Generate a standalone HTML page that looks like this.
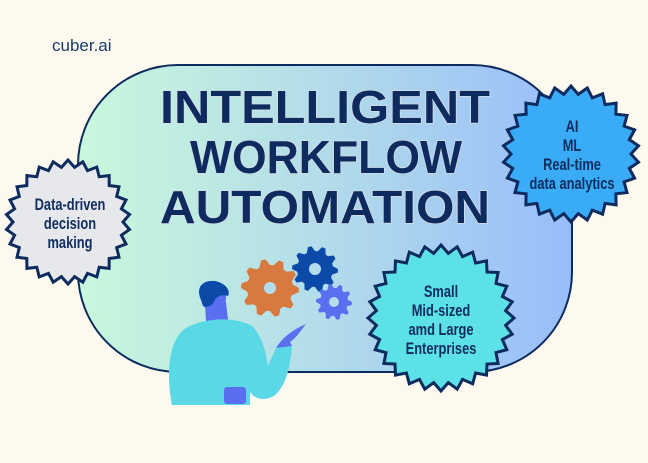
<!DOCTYPE html>
<html><head><meta charset="utf-8"><style>
html,body{margin:0;padding:0;background:#fef9ee;}
svg{display:block}
.t{font-family:"Liberation Sans",sans-serif;font-weight:bold;fill:#0f2d5e;text-anchor:middle;font-size:16.5px}
.h{font-family:"Liberation Sans",sans-serif;font-weight:bold;fill:#0d2b5e;stroke:#d8dde6;stroke-width:1.5;paint-order:stroke;font-size:46px}
</style></head><body>
<svg id="s" width="648" height="463" viewBox="0 0 648 463" xmlns="http://www.w3.org/2000/svg">
<defs><linearGradient id="g" x1="0" x2="1" y1="0" y2="0">
<stop offset="0" stop-color="#c8f8dc"/><stop offset="0.5" stop-color="#b2dcea"/><stop offset="1" stop-color="#98bdfa"/></linearGradient></defs>
<text x="52" y="51" style="font-family:'Liberation Sans',sans-serif;font-size:17px;fill:#1a3a6e">cuber.ai</text>
<rect x="78" y="65" width="494" height="307" rx="100" ry="100" fill="url(#g)" stroke="#0d2b5e" stroke-width="2"/>
<text class="h" x="160" y="123" textLength="330" lengthAdjust="spacingAndGlyphs">INTELLIGENT</text>
<text class="h" x="190" y="173" textLength="272" lengthAdjust="spacingAndGlyphs">WORKFLOW</text>
<text class="h" x="160" y="223" textLength="330" lengthAdjust="spacingAndGlyphs">AUTOMATION</text>
<g id="bursts"></g>
<g id="gears"></g>
<!-- person -->
<path d="M205,302 L206,322 C212,326 222,326 228,320 L226,302Z" fill="#5a6ff0"/>
<path d="M172,405 C166,375 168,340 186,328 C204,318 234,316 252,326 C262,336 266,352 268,366 L276,348 L292,346 C290,368 286,386 274,396 C262,402 254,398 250,392 L250,405 Z" fill="#5ad8e6"/>
<path d="M276,348 C282,338 292,330 306,324 C300,332 296,338 290,342 L292,346 Z" fill="#5a6ff0"/>
<ellipse cx="214" cy="298" rx="12" ry="15" fill="#5a6ff0"/>
<path d="M201,300 C195,286 204,280 215,281 C225,283 231,290 228,296 C222,294 216,296 214,302 C212,306 206,308 203,306Z" fill="#0b4aa8"/>
<rect x="224" y="387" width="22" height="17" rx="3" fill="#5a6ff0"/>
<g id="txt">
<text class="t" transform="translate(70,210) scale(0.78,1)">Data-driven</text>
<text class="t" transform="translate(70,229) scale(0.78,1)">decision</text>
<text class="t" transform="translate(70,248) scale(0.78,1)">making</text>
<text class="t" transform="translate(572,132) scale(0.78,1)">AI</text>
<text class="t" transform="translate(572,151) scale(0.78,1)">ML</text>
<text class="t" transform="translate(572,170) scale(0.78,1)">Real-time</text>
<text class="t" transform="translate(572,189) scale(0.78,1)">data analytics</text>
<text class="t" transform="translate(441,297) scale(0.78,1)">Small</text>
<text class="t" transform="translate(441,316) scale(0.78,1)">Mid-sized</text>
<text class="t" transform="translate(441,335) scale(0.78,1)">amd Large</text>
<text class="t" transform="translate(441,354) scale(0.78,1)">Enterprises</text>
</g>
</svg>
<script>
var NS="http://www.w3.org/2000/svg";
function burst(cx,cy,ro,ri,n,fill){var p=[];for(var i=0;i<2*n;i++){var a=Math.PI*i/n-Math.PI/2;var r=i%2?ri:ro;p.push((cx+r*Math.cos(a)).toFixed(1)+","+(cy+r*Math.sin(a)).toFixed(1));}
var e=document.createElementNS(NS,"polygon");e.setAttribute("points",p.join(" "));e.setAttribute("fill",fill);e.setAttribute("stroke","#0d2b5e");e.setAttribute("stroke-width","3");e.setAttribute("stroke-linejoin","miter");document.getElementById("bursts").appendChild(e);}
burst(68,222,62,55,26,"#e7e8ec");
burst(571,154,68,60,26,"#3aabf6");
burst(441,318,73,65,28,"#5ce1e6");
function gear(cx,cy,r,t,fill,hole){var p=[],n=10;for(var i=0;i<n*4;i++){var a=2*Math.PI*i/(n*4);var rr=(i%4<2)?r:r-t;p.push((cx+rr*Math.cos(a)).toFixed(1)+","+(cy+rr*Math.sin(a)).toFixed(1));}
var g=document.getElementById("gears");var e=document.createElementNS(NS,"polygon");e.setAttribute("points",p.join(" "));e.setAttribute("fill",fill);g.appendChild(e);
var c=document.createElementNS(NS,"circle");c.setAttribute("cx",cx);c.setAttribute("cy",cy);c.setAttribute("r",hole);c.setAttribute("fill","#b4dcea");g.appendChild(c);}
gear(270,288,29,6,"#d87a40",6);
gear(315,269,23,5,"#0b4aa8",6);
gear(334,302,18,4,"#5a6ff0",5);
</script>
</body></html>
